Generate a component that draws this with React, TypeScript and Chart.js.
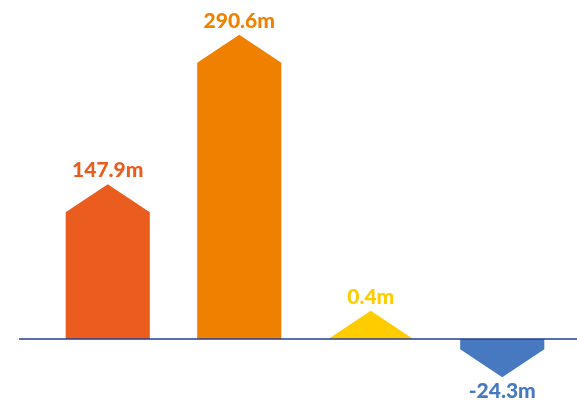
import React, { useEffect, useRef } from "react";
import { Chart, registerables } from "chart.js";

Chart.register(...registerables);

const categories = ["A", "B", "C", "D"];
const values = [147.9, 290.6, 0.4, -24.3];
const valueLabels = ["147.9m", "290.6m", "0.4m", "-24.3m"];
const colors = ["#EA5D1E", "#F08000", "#FFCC00", "#4779C1"];

const HEAD = 28;

const arrowPlugin = {
  id: "arrows",
  afterDatasetsDraw(chart: any) {
    const ctx = chart.ctx;
    const meta = chart.getDatasetMeta(0);
    const y = chart.scales.y;
    const base = y.getPixelForValue(0);
    ctx.save();
    meta.data.forEach((el: any, i: number) => {
      const v = values[i];
      const dir = v >= 0 ? -1 : 1;
      const vpx = Math.abs(y.getPixelForValue(v) - base);
      const rect = Math.max(vpx - HEAD, vpx * 0.4);
      const half = el.width / 2;
      const x0 = el.x - half;
      const x1 = el.x + half;
      const rectEnd = base + dir * rect;
      const apex = rectEnd + dir * HEAD;
      ctx.fillStyle = colors[i];
      ctx.beginPath();
      ctx.moveTo(x0, base);
      ctx.lineTo(x0, rectEnd);
      ctx.lineTo(el.x, apex);
      ctx.lineTo(x1, rectEnd);
      ctx.lineTo(x1, base);
      ctx.closePath();
      ctx.fill();

      ctx.font = "900 21px Lato, 'Open Sans', sans-serif";
      ctx.textAlign = "center";
      ctx.textBaseline = "middle";
      ctx.fillText(valueLabels[i], el.x, apex + dir * 14);
    });
    ctx.strokeStyle = "#233F98";
    ctx.lineWidth = 1.5;
    ctx.beginPath();
    ctx.moveTo(19, base);
    ctx.lineTo(chart.width, base);
    ctx.stroke();
    ctx.restore();
  },
};

export default function App() {
  const ref = useRef<HTMLCanvasElement>(null);
  useEffect(() => {
    document.body.style.margin = "0";
    const chart = new Chart(ref.current!, {
      type: "bar",
      data: {
        labels: categories,
        datasets: [
          {
            data: values,
            backgroundColor: "rgba(0,0,0,0)",
            barPercentage: 0.8,
            categoryPercentage: 0.8,
          },
        ],
      },
      options: {
        animation: false,
        responsive: false,
        layout: { padding: { left: 42, right: 9, top: 0, bottom: 0 } },
        plugins: { legend: { display: false }, tooltip: { enabled: false } },
        scales: {
          x: { display: false },
          y: { display: false, min: -64, max: 323.8 },
        },
      },
      plugins: [arrowPlugin],
    });
    return () => chart.destroy();
  }, []);
  return (
    <div style={{ width: 577, height: 406 }}>
      <canvas ref={ref} width={577} height={406} />
    </div>
  );
}
